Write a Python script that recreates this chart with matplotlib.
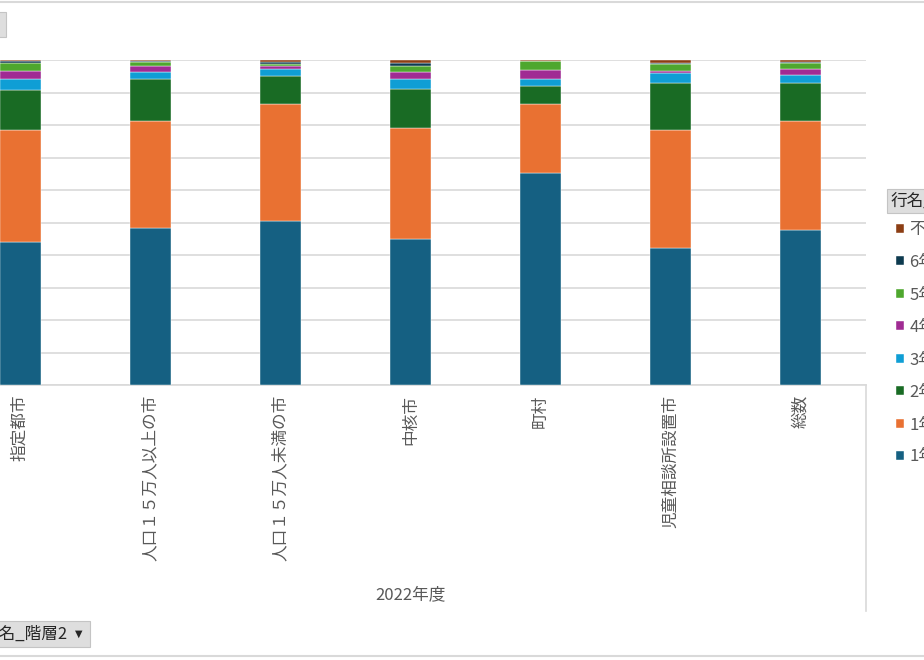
import matplotlib.pyplot as plt
import numpy as np
from matplotlib.patches import Rectangle
from matplotlib.lines import Line2D

plt.rcParams['font.family'] = ['Noto Sans CJK JP', 'DejaVu Sans']

categories = ['指定都市', '人口１５万人以上の市', '人口１５万人未満の市', '中核市',
              '町村', '児童相談所設置市', '総数']
series_names = ['1年未満', '1年以上2年未満', '2年以上3年未満', '3年以上4年未満',
                '4年以上5年未満', '5年以上6年未満', '6年以上', '不明']
s1 = [43.9, 48.4, 50.5, 45.0, 65.4, 42.2, 47.6]
s2 = [34.6, 32.7, 36.0, 34.1, 21.2, 36.2, 33.5]
s3 = [12.5, 13.1, 8.7, 12.1, 5.4, 14.4, 11.7]
s4 = [3.1, 2.1, 2.0, 3.1, 2.3, 3.1, 2.6]
s5 = [2.6, 1.8, 1.1, 2.1, 2.6, 0.7, 1.8]
s6 = [2.4, 1.3, 0.5, 1.9, 2.8, 2.1, 1.8]
s7 = [0.6, 0.3, 0.6, 0.7, 0.1, 0.2, 0.5]
s8 = [0.4, 0.3, 0.6, 1.0, 0.3, 1.0, 0.5]
colors = ['#156082', '#E97132', '#196B24', '#0F9ED5', '#A02B93', '#4EA72E', '#0D3A4F', '#8C3E14']

W, H = 924, 660
grey = '#595959'
line_grey = '#d9d9d9'

data = np.array([s1, s2, s3, s4, s5, s6, s7, s8])
pct = data / data.sum(axis=0) * 100  # 100% stacked

fig = plt.figure(figsize=(W / 100, H / 100), dpi=100)
# plot area runs off the left edge of the screenshot
ax = fig.add_axes([-45 / W, 1 - 385 / H, 911 / W, 325 / H])

x = np.arange(len(categories))
bottom = np.zeros(len(categories))
bars = []
for i in range(len(series_names)):
    b = ax.bar(x, pct[i], 0.315, bottom=bottom, color=colors[i],
               edgecolor='white', linewidth=0.3, label=series_names[i], zorder=3)
    bars.append(b)
    bottom += pct[i]

ax.set_xlim(-0.5, 6.5)
ax.set_ylim(0, 100)
ax.set_yticks(np.arange(0, 101, 10))
ax.set_yticklabels([])
ax.tick_params(axis='y', length=0)
ax.grid(axis='y', color=line_grey, linewidth=1.2, zorder=0)
for s in ['top', 'right', 'left']:
    ax.spines[s].set_visible(False)
ax.spines['bottom'].set_color(line_grey)
ax.spines['bottom'].set_linewidth(1.2)

ax.set_xticks(x)
ax.set_xticklabels(categories, rotation=90, va='top', ha='center',
                   fontsize=12, color=grey)
ax.tick_params(axis='x', length=0, pad=7)

ax.text(0.5, (385 - 595) / 325, '2022年度', transform=ax.transAxes,
        ha='center', va='center', fontsize=12, color=grey)

# multi-level category dividers
for xx in [0, 1]:
    ax.plot([xx, xx], [0, -(611 - 385) / 325], transform=ax.transAxes,
            color=line_grey, linewidth=1.2, clip_on=False)

# legend (cut off by the screenshot edge)
leg = fig.legend(handles=bars[::-1], labels=series_names[::-1], loc='upper left',
                 bbox_to_anchor=(896 / W, 1 - 221 / H), frameon=False,
                 fontsize=12, handlelength=0.45, handleheight=0.45,
                 handletextpad=0.35, labelspacing=0.93, borderpad=0, borderaxespad=0)
for t in leg.get_texts():
    t.set_color(grey)

# chart border lines
fig.add_artist(Line2D([0, 1], [1 - 1.5 / H, 1 - 1.5 / H], transform=fig.transFigure,
                      color=line_grey, linewidth=1.5))
fig.add_artist(Line2D([0, 1], [1 - 656 / H, 1 - 656 / H], transform=fig.transFigure,
                      color=line_grey, linewidth=1.5))

# pivot field buttons
def button(x0, y0, x1, y1):
    fig.add_artist(Rectangle((x0 / W, 1 - y1 / H), (x1 - x0) / W, (y1 - y0) / H,
                             transform=fig.transFigure, facecolor='#dedede',
                             edgecolor='#c4c4c4', linewidth=0.8))

button(-30, 12, 6, 37)
button(-30, 621, 90, 647)
fig.text(-17 / W, 1 - 634 / H, '行名_階層2', fontsize=12, color='#262626', va='center')
fig.text(75 / W, 1 - 634 / H, '▼', fontsize=7, color='#262626', va='center',
         family='DejaVu Sans')
button(887, 189, 940, 213)
fig.text(891 / W, 1 - 201 / H, '行名_階層1', fontsize=12, color='#262626', va='center')

fig.savefig('out.png', dpi=100)
